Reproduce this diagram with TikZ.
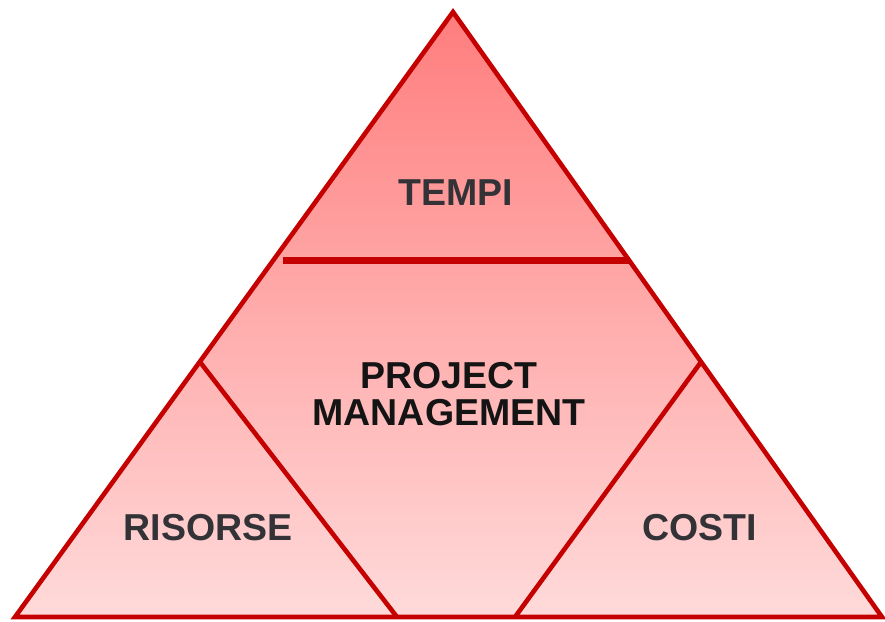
\documentclass[tikz,border=0pt]{standalone}
\usepackage{fontspec}
\setmainfont{Liberation Sans}
\definecolor{edgered}{RGB}{196,0,0}
\definecolor{topfill}{RGB}{255,125,125}
\definecolor{botfill}{RGB}{255,218,218}
\definecolor{labgray}{RGB}{50,50,55}
\definecolor{labdark}{RGB}{20,20,20}
\begin{document}
\begin{tikzpicture}[x=1pt,y=-1pt,
  edge/.style={draw=edgered,line width=4.6pt,line join=miter},
  bar/.style={draw=edgered,line width=7pt},
  lab/.style={font=\bfseries\fontsize{37.5}{37}\selectfont,text=labgray,inner sep=0pt,align=center},
  mainlab/.style={lab,text=labdark}]
\useasboundingbox (0,0) rectangle (885,621);
\coordinate (A) at (453,12);
\coordinate (L) at (15,617);
\coordinate (R) at (882,617);
\coordinate (LA) at (200,362);
\coordinate (LB) at (397,617);
\coordinate (RA) at (701,362);
\coordinate (RB) at (515,617);
\coordinate (H1) at (283,260);
\coordinate (H2) at (630,260);
\shade[top color=topfill,bottom color=botfill] (A)--(L)--(R)--cycle;
\draw[edge] (A)--(L)--(R)--cycle;
\draw[edge] (LA)--(LB);
\draw[edge] (RA)--(RB);
\draw[bar] (H1)--(H2);
\node[lab] (tempi) at (456,193) {TEMPI};
\node[mainlab] (pm) at (449,394) {PROJECT\\MANAGEMENT};
\node[lab] (risorse) at (208,528) {RISORSE};
\node[lab] (costi) at (700,528) {COSTI};
\end{tikzpicture}
\end{document}
